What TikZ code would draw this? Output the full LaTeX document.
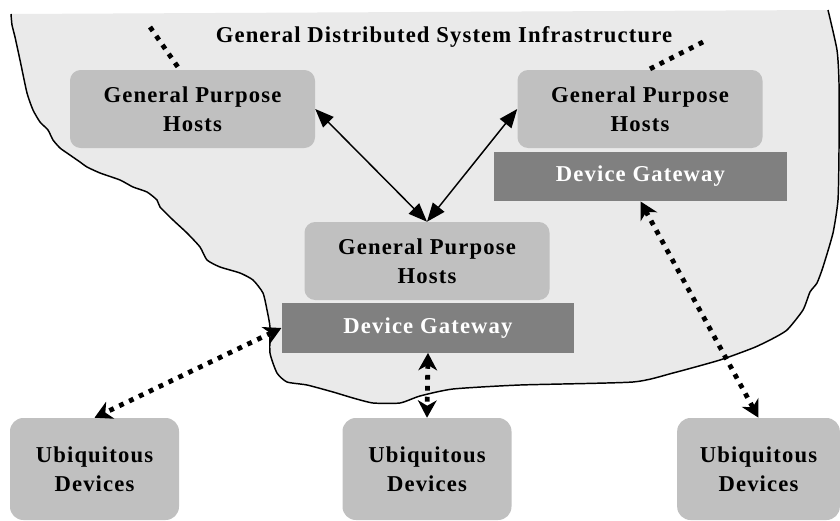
\documentclass[tikz,border=0pt]{standalone}
\usepackage{fontspec}
\setmainfont{Liberation Serif}[LetterSpace=5]
\usepackage{tikz}
\usetikzlibrary{arrows.meta}

\definecolor{cloudgray}{HTML}{EAEAEA}
\definecolor{boxgray}{HTML}{C0C0C0}
\definecolor{gategray}{HTML}{808080}

\begin{document}
\begin{tikzpicture}[
    x=0.75pt, y=-0.75pt,
    font=\fontsize{17}{22}\selectfont\bfseries,
    host/.style={rectangle, fill=boxgray, rounded corners=8pt, minimum width=183.75pt, minimum height=58.5pt, inner sep=0pt, align=center},
    gateway/.style={rectangle, fill=gategray, text=white, minimum width=219.5pt, minimum height=37pt, inner sep=0pt, align=center},
    device/.style={rectangle, fill=boxgray, rounded corners=10pt, minimum width=126.75pt, minimum height=76.5pt, inner sep=0pt, align=center},
    hostlink/.style={line width=1.1pt, {Triangle[length=14pt, width=11pt]}-{Triangle[length=14pt, width=11pt]}},
    devlink/.style={line width=3.6pt, dash pattern=on 3.6pt off 4.6pt},
    devarrow/.style={devlink, {Stealth[length=13pt, width=14pt, inset=4pt]}-{Stealth[length=13pt, width=14pt, inset=4pt]}}
]
\useasboundingbox (0,0) rectangle (840,521);

% Infrastructure cloud (top edge left open)
\draw[fill=cloudgray, line width=1.1pt] plot[smooth, tension=0.35] coordinates {
    (11,14) (12,25) (15,37) (20,60) (27,93) (33,110) (40,122) (48,130) (53,140)
    (60,148) (67,153) (80,162) (87,167) (100,173) (120,180) (133,187) (147,192)
    (157,200) (160,207) (173,220) (187,233) (200,247) (207,260) (220,267) (240,273)
    (253,280) (263,293) (267,310) (270,327) (270,353) (277,373) (287,382) (307,385)
    (333,392) (353,398) (373,403) (400,403) (420,396) (453,389) (520,385) (633,382)
    (673,373) (720,360) (753,348) (770,340) (787,330) (803,310) (810,292) (817,283)
    (823,267) (833,233) (838,200) (839,150) (839,83) (837,50) (828,10)};

\node (title) at (444,37) {General Distributed System Infrastructure};

% Hosts and gateways inside the cloud
\node[host] (gph1) at (192.5,109) {General Purpose\\Hosts};
\node[host] (gph2) at (640,109) {General Purpose\\Hosts};
\node[gateway] (gw1) at (640.5,176.5) {Device Gateway};
\node[host] (gph3) at (427,261) {General Purpose\\Hosts};
\node[gateway] (gw2) at (428,328) {Device Gateway};

% Devices outside
\node[device] (dev1) at (94.5,469) {Ubiquitous\\Devices};
\node[device] (dev2) at (427,469) {Ubiquitous\\Devices};
\node[device, minimum width=122pt] (dev3) at (758.5,469) {Ubiquitous\\Devices};

% Host links
\draw[hostlink] (gph1.east) -- (gph3.north);
\draw[hostlink] (gph2.west) -- (gph3.north);

% Links leaving the picture
\coordinate (out1) at (150,27);
\coordinate (out2) at (703,42);
\draw[devlink] (out1) -- (gph1.108);
\draw[devlink] (out2) -- (gph2.78);

% Gateway to device links
\draw[devarrow] (gw2.west) -- (dev1.north);
\draw[devarrow] (gw2.south) -- (dev2.north);
\draw[devarrow] (gw1.south) -- (dev3.north);

\end{tikzpicture}
\end{document}
